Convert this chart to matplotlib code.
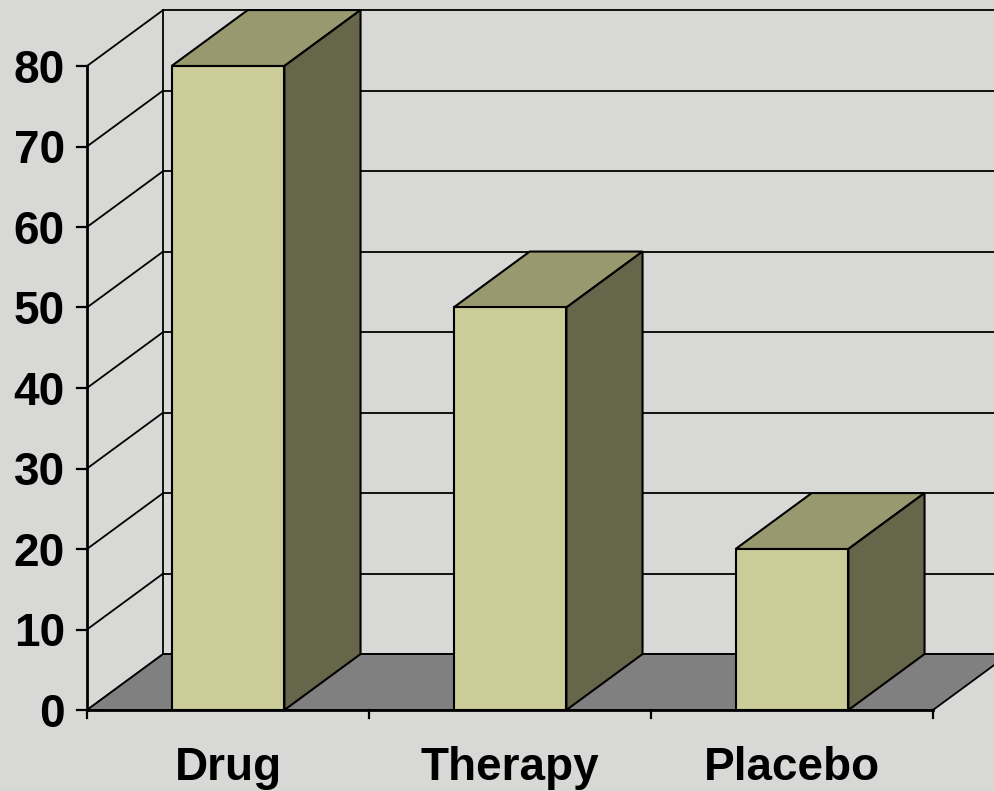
import matplotlib.pyplot as plt
from matplotlib.patches import Polygon

categories = ["Drug", "Therapy", "Placebo"]
values = [80, 50, 20]
y_ticks = [0, 10, 20, 30, 40, 50, 60, 70, 80]

# pseudo-3D depth offset (category units, value units)
dx = 0.27
dv = 6.95
bar_w = 0.40

front_col = "#cccc99"
top_col = "#999970"
side_col = "#66664a"
floor_col = "#808080"
bg_col = "#d8d8d6"

fig = plt.figure(figsize=(9.95, 7.91), dpi=100)
fig.patch.set_facecolor(bg_col)
ax = fig.add_axes([0, 0, 1, 1])
ax.set_facecolor(bg_col)
ax.set_xlim(-87 / 282, 908 / 282)
ax.set_ylim((710 - 791) / 8.05, 710 / 8.05)
ax.axis("off")

n = len(categories)
ymax = y_ticks[-1]

# back wall gridlines and side wall lines
for v in y_ticks:
    ax.plot([dx, n + dx + 0.5], [v + dv, v + dv], color="black", lw=1.3, zorder=1)
    ax.plot([0, dx], [v, v + dv], color="black", lw=1.3, zorder=1)
ax.plot([dx, dx], [dv, ymax + dv], color="black", lw=1.3, zorder=1)

# floor
floor = Polygon([(0, 0), (n, 0), (n + dx, dv), (dx, dv)], closed=True,
                facecolor=floor_col, edgecolor="black", lw=1.3, zorder=2)
ax.add_patch(floor)

# bars
for i, val in enumerate(values):
    x0 = i + 0.5 - bar_w / 2
    x1 = i + 0.5 + bar_w / 2
    front = Polygon([(x0, 0), (x1, 0), (x1, val), (x0, val)],
                    facecolor=front_col, edgecolor="black", lw=1.5, zorder=4)
    top = Polygon([(x0, val), (x1, val), (x1 + dx, val + dv), (x0 + dx, val + dv)],
                  facecolor=top_col, edgecolor="black", lw=1.5, zorder=3)
    side = Polygon([(x1, 0), (x1 + dx, dv), (x1 + dx, val + dv), (x1, val)],
                   facecolor=side_col, edgecolor="black", lw=1.5, zorder=3)
    for p in (top, side, front):
        ax.add_patch(p)

# axes lines and ticks
ax.plot([0, 0], [0, ymax], color="black", lw=2.0, zorder=5)
ax.plot([0, n], [0, 0], color="black", lw=2.0, zorder=5)
for v in y_ticks:
    ax.plot([-10 / 282, 0], [v, v], color="black", lw=1.6, zorder=5)
    ax.text(-22 / 282, v - 2.1, str(v), ha="right", va="baseline", fontsize=33,
            fontweight="bold", family="Liberation Sans", zorder=6)
for i in range(n + 1):
    ax.plot([i, i], [0, -1.0], color="black", lw=1.6, zorder=5)
for i, cat in enumerate(categories):
    ax.text(i + 0.5, -8.7, cat, ha="center", va="baseline", fontsize=33,
            fontweight="bold", family="Liberation Sans", zorder=6)

fig.savefig("out.png", dpi=100, facecolor=bg_col)
